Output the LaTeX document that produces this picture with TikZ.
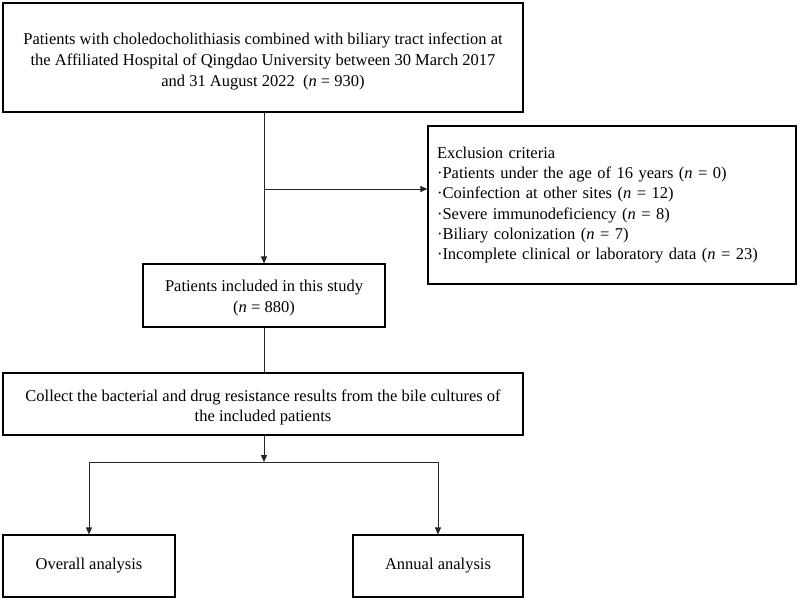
\documentclass[tikz,border=0pt]{standalone}
\usepackage{fontspec}
\setmainfont{Liberation Serif}
\usetikzlibrary{arrows.meta}
\newcommand{\lowby}[1]{\rule{0pt}{\dimexpr 11.5pt+2\dimexpr #1\relax\relax}}
\begin{document}
\begin{tikzpicture}[x=1pt,y=-1pt,
  box/.style={draw=black,line width=1.1pt,inner sep=0pt,font=\fontsize{16.5}{21}\selectfont,align=center},
  conn/.style={draw=black!85,line width=0.8pt},
  arr/.style={conn,-{Triangle[length=7pt,width=6pt]}}]
\useasboundingbox (0,0) rectangle (800,600);
\node[box,minimum width=520pt,minimum height=109pt] (top) at (263,57.5)
  {\lowby{4pt}Patients with choledocholithiasis combined with biliary tract infection at\\
   the Affiliated Hospital of Qingdao University between 30 March 2017\\
   and 31 August 2022 ~(\textit{n} = 930)};
\node[box,minimum width=368pt,minimum height=158pt,align=left,text width=350pt,inner xsep=9pt,font=\fontsize{16.5}{20.3}\selectfont] (excl) at (612,205)
  {Exclusion criteria\\
   ·Patients under the age of 16 years (\textit{n} = 0)\\
   ·Coinfection at other sites (\textit{n} = 12)\\
   ·Severe immunodeficiency (\textit{n} = 8)\\
   ·Biliary colonization (\textit{n} = 7)\\
   ·Incomplete clinical or laboratory data (\textit{n} = 23)};
\node[box,minimum width=242pt,minimum height=63pt] (incl) at (264,295.5)
  {\lowby{3pt}Patients included in this study\\(\textit{n} = 880)};
\node[box,minimum width=520pt,minimum height=62pt,font=\fontsize{16.5}{20}\selectfont] (coll) at (263,404)
  {\lowby{3pt}Collect the bacterial and drug resistance results from the bile cultures of\\the included patients};
\node[box,minimum width=172pt,minimum height=62pt] (over) at (89,566) {Overall analysis};
\node[box,minimum width=170pt,minimum height=62pt] (ann) at (438,566) {Annual analysis};
\coordinate (j) at (264,189);
\coordinate (b) at (264,462);
\draw[arr] (incl.north |- top.south) -- (incl.north);
\draw[arr] (j) -- (excl.west |- j);
\draw[conn] (incl.south) -- (incl.south |- coll.north);
\draw[arr] (b |- coll.south) -- (b);
\draw[conn] (over.north |- b) -- (ann.north |- b);
\draw[arr] (over.north |- b) -- (over.north);
\draw[arr] (ann.north |- b) -- (ann.north);
\end{tikzpicture}
\end{document}
